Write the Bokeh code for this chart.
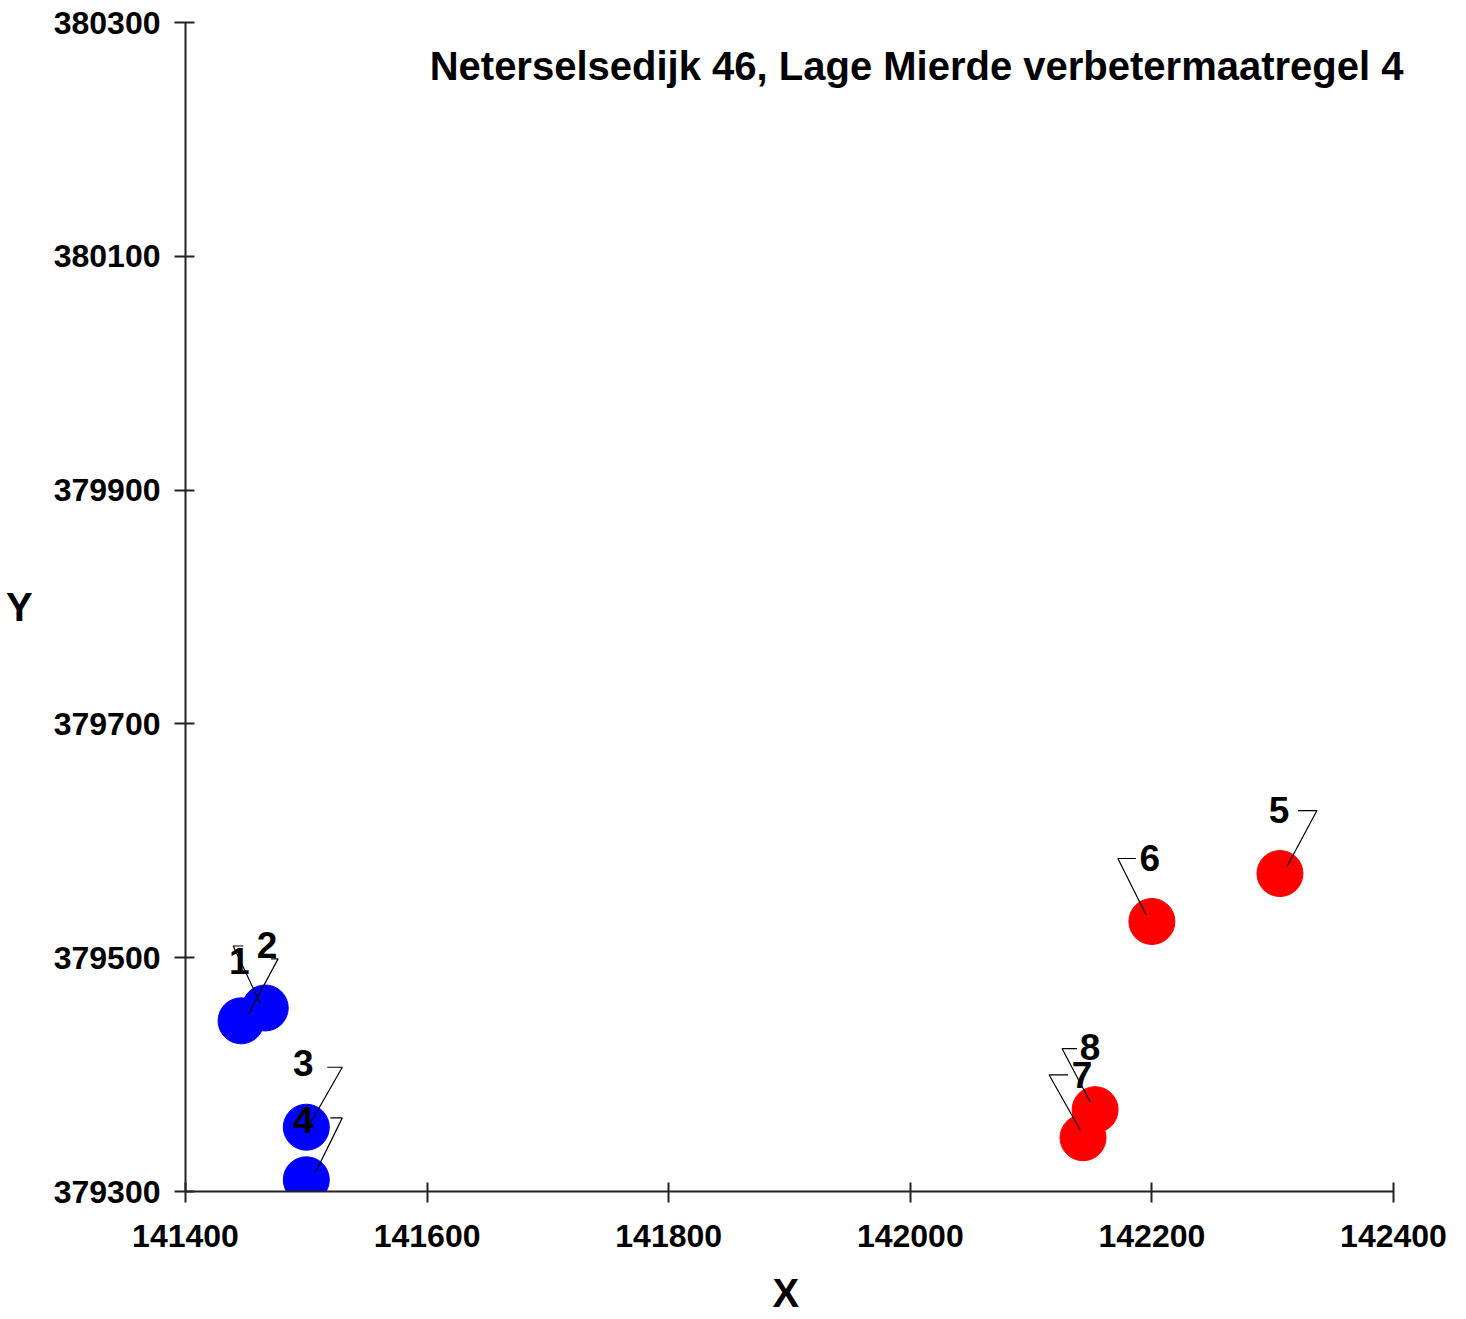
from bokeh.plotting import figure
from bokeh.models import Range1d, FixedTicker, BasicTickFormatter, Label
from bokeh.core.properties import value
from bokeh.embed import file_html
from bokeh.resources import INLINE

# ---- data ----
title_text = "Neterselsedijk 46, Lage Mierde verbetermaatregel 4"
x_label = "X"
y_label = "Y"
blue_ids = ["1", "2", "3", "4"]
blue_x = [141466, 141446, 141500, 141500]
blue_y = [379457, 379446, 379355, 379310]
red_ids = ["5", "6", "7", "8"]
red_x = [142306, 142200, 142143, 142153]
red_y = [379572, 379531, 379346, 379370]
x_ticks = [141400, 141600, 141800, 142000, 142200, 142400]
y_ticks = [379300, 379500, 379700, 379900, 380100, 380300]

# ---- label placement (screen pixel offsets from each point, +down) ----
blue_lab = [(-26, -47), (26, -76), (-3, -64), (-3, -60)]
blue_elbow = [(-32, -62), (37, -62), (36, -60), (36, -62)]
blue_hend = [-22, 30, 21, 24]
blue_start = [(-5, -5), (7, -6), (4, -4), (9, -7)]
red_lab = [(-1, -64), (-2, -64), (-1, -63), (-5, -63)]
red_elbow = [(37, -63), (-34, -63), (-34, -63), (-33, -61)]
red_hend = [18, -16, -15, -18]
red_start = [(7, -7), (-6, -7), (-3, -8), (-5, -8)]

W, H = 1450, 1317
ML, MT = 185, 22
SPAN_X, SPAN_Y = 1208, 1170      # pixels covered by the tick span
EXTRA_X = 37                      # free room right of last tick (title overhang)
FW, FH = SPAN_X + EXTRA_X, SPAN_Y
MR, MB = W - ML - FW, H - MT - FH
x0, x1 = x_ticks[0], x_ticks[-1]
y0, y1 = y_ticks[0], y_ticks[-1]
ux = (x1 - x0) / SPAN_X
uy = (y1 - y0) / SPAN_Y

p = figure(width=W, height=H, output_backend="svg", toolbar_location=None,
           x_range=Range1d(x0, x1 + EXTRA_X * ux), y_range=Range1d(y0, y1),
           min_border_left=ML, min_border_right=MR, min_border_top=MT,
           min_border_bottom=MB)
p.outline_line_color = None
p.xgrid.visible = False
p.ygrid.visible = False
p.background_fill_color = "white"
p.border_fill_color = "white"

FONT = "Liberation Sans"
for ax, ticks in ((p.xaxis[0], x_ticks), (p.yaxis[0], y_ticks)):
    ax.ticker = FixedTicker(ticks=ticks)
    ax.formatter = BasicTickFormatter(use_scientific=False)
    ax.bounds = (ticks[0], ticks[-1])
    ax.minor_tick_line_color = None
    ax.axis_line_width = 2
    ax.axis_line_color = "#222222"
    ax.major_tick_line_width = 2
    ax.major_tick_line_color = "#222222"
    ax.major_tick_in = 9
    ax.major_tick_out = 11
    ax.major_label_text_font = FONT
    ax.major_label_text_font_style = "bold"
    ax.major_label_text_font_size = "32px"
    ax.major_label_text_color = "black"
    ax.axis_label_text_font = FONT
    ax.axis_label_text_font_style = "bold"
    ax.axis_label_text_font_size = "40px"
    ax.axis_label_text_color = "black"

# the frame is wider than the tick span, so pad the centred X label
# with non-breaking spaces to keep it centred under the tick span
p.xaxis.axis_label = x_label + "\u00a0" * 4
p.yaxis.axis_label = y_label
p.yaxis.axis_label_orientation = "horizontal"
p.xaxis.major_label_standoff = 22
p.yaxis.major_label_standoff = 14
p.xaxis.axis_label_standoff = 21
p.yaxis.axis_label_standoff = 18


def leaders(xs, ys, start, elbow, hend):
    lx, ly = [], []
    for x, y, s, e, h in zip(xs, ys, start, elbow, hend):
        lx.append([x + s[0] * ux, x + e[0] * ux, x + h * ux])
        ly.append([y - s[1] * uy, y - e[1] * uy, y - e[1] * uy])
    return lx, ly


for xs, ys, ids, col, lab, elb, hend, st in (
        (blue_x, blue_y, blue_ids, "#0000ff", blue_lab, blue_elbow, blue_hend, blue_start),
        (red_x, red_y, red_ids, "#ff0000", red_lab, red_elbow, red_hend, red_start)):
    p.scatter(xs, ys, size=46, fill_color=col, line_color=col)
    lx, ly = leaders(xs, ys, st, elb, hend)
    p.multi_line(lx, ly, line_color="black", line_width=1.2)
    tx = [x + d[0] * ux for x, d in zip(xs, lab)]
    ty = [y - d[1] * uy for y, d in zip(ys, lab)]
    p.text(tx, ty, text=ids, text_font=value(FONT), text_font_style="bold",
           text_font_size="37px", text_align="center", text_baseline="middle",
           text_color="black")

title = Label(x=x1 + 10 * ux, y=y1 - 44 * uy, text=title_text,
              text_font=FONT, text_font_style="bold", text_font_size="40px",
              text_align="right", text_baseline="middle", text_color="black")
p.add_layout(title)

open("out.html", "w").write(file_html(p, INLINE))
